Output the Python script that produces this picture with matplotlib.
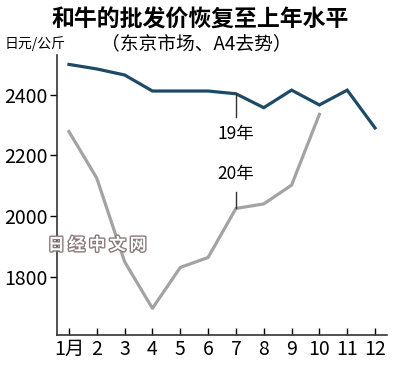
import matplotlib.pyplot as plt
import matplotlib.patheffects as pe

plt.rcParams['font.family'] = ['Noto Sans CJK SC', 'DejaVu Sans']

months = list(range(1, 13))
month_labels = ['1月', '2', '3', '4', '5', '6', '7', '8', '9', '10', '11', '12']
price_2019 = [2501, 2486, 2466, 2413, 2413, 2413, 2404, 2358, 2416, 2367, 2416, 2291]
price_2020 = [2279, 2125, 1849, 1695, 1830, 1863, 2025, 2040, 2102, 2336]
yticks = [1800, 2000, 2200, 2400]

fig = plt.figure(figsize=(4, 3.73), dpi=100)
ax = fig.add_axes([0.1425, 0.102, 0.825, 0.7505])

ax.plot(months, price_2019, color='#1d4a66', lw=2.3, solid_joinstyle='miter')
ax.plot(months[:len(price_2020)], price_2020, color='#a3a3a5', lw=2.3)

ax.set_xlim(0.57, 12.43)
ax.set_ylim(1607, 2532)
ax.set_xticks(months)
ax.set_xticklabels(month_labels)
ax.set_yticks(yticks)
ax.tick_params(axis='x', direction='in', length=5, width=1, labelsize=14, pad=3)
ax.tick_params(axis='y', direction='out', length=5, width=1, labelsize=14, pad=2)
for s in ['top', 'right']:
    ax.spines[s].set_visible(False)
for s in ['left', 'bottom']:
    ax.spines[s].set_linewidth(1.2)
    ax.spines[s].set_color('#333333')

# labels for the two series
ax.plot([7, 7], [price_2019[6], 2326], color='#333333', lw=1)
ax.text(7, 2300, '19年', ha='center', va='top', fontsize=12.5)
ax.plot([7, 7], [price_2020[6], 2078], color='#333333', lw=1)
ax.text(7, 2108, '20年', ha='center', va='bottom', fontsize=12.5)

fig.text(0.5, 0.945, '和牛的批发价恢复至上年水平', ha='center', va='center',
         fontsize=16.5, fontweight='heavy')
fig.text(0.49, 0.882, '（东京市场、A4去势）', ha='center', va='center', fontsize=13.5)
fig.text(0.012, 0.882, '日元/公斤', ha='left', va='center', fontsize=10)

fig.text(0.2425, 0.343, '日 经 中 文 网', ha='center', va='center', fontsize=12,
         fontweight='bold', color='white',
         path_effects=[pe.withStroke(linewidth=2, foreground='#8a7a7a')])

fig.savefig('out.png', dpi=100)
